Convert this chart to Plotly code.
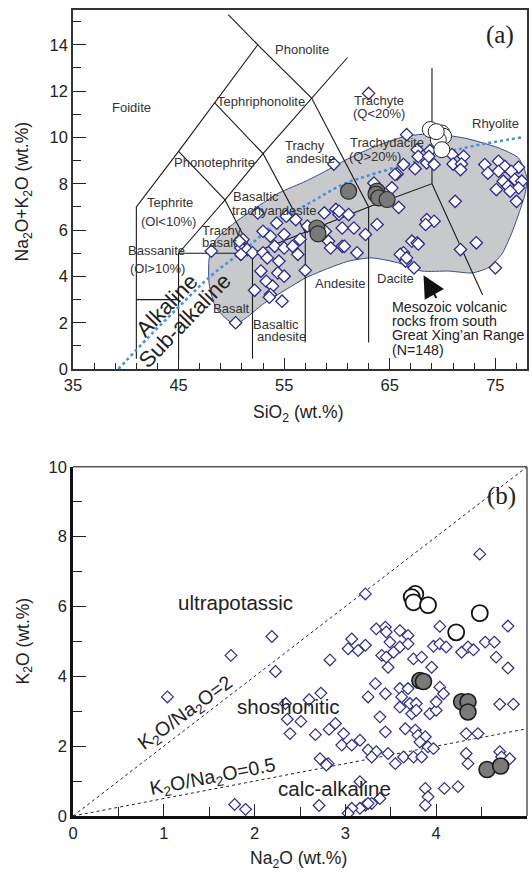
import plotly.graph_objects as go

# ---------------- (a) TAS data ----------------
tas_dia_sio2 = [59.7, 52.5, 55.2, 56.1, 58.8, 59.9, 60.2, 53.0, 53.7, 55.0, 57.2, 58.9, 60.5, 59.2, 59.4,
                60.5, 51.1, 50.9, 51.5, 48.1, 52.0, 50.9, 53.0, 53.4, 54.1, 55.0, 55.8, 56.3, 54.5, 52.8,
                54.4, 55.0, 57.0, 53.3, 53.9, 53.7, 53.6, 54.8, 50.4, 50.75, 61.1, 61.6, 62.7, 61.9, 60.7,
                63.8, 65.85, 65.2, 71.2, 68.5, 69.2, 68.4, 67.1, 67.6, 66.3, 66.5, 67.3, 71.7, 73.2, 75.0,
                77.0, 66.6, 67.6, 68.8, 66.3, 67.4, 68.5, 69.2, 67.7, 65.7, 63.5, 63.0, 65.5, 70.9, 72.0,
                71.0, 71.8, 71.7, 74.0, 74.3, 75.3, 75.9, 77.2, 75.3, 76.5, 75.75, 76.85, 77.5, 75.1, 76.2,
                77.2, 76.4, 66.0, 67.7, 60.2, 68.7, 66.6, 54.3, 56.5, 52.2]
tas_dia_alk = [8.85, 6.74, 6.6, 6.45, 6.74, 6.89, 6.67, 5.95, 5.73, 5.81, 6.17, 5.95, 6.09, 5.52, 5.23,
               5.3, 5.59, 5.23, 5.16, 5.09, 5.02, 4.95, 5.02, 4.8, 5.3, 5.23, 5.3, 4.95, 4.66, 4.23,
               4.15, 4.01, 4.26, 3.79, 3.58, 3.22, 3.1, 2.93, 2.0, 5.52, 6.67, 6.09, 5.81, 5.02, 5.3,
               6.24, 6.98, 7.82, 7.24, 6.45, 6.38, 6.24, 5.52, 5.45, 5.02, 4.66, 4.37, 5.16, 5.45, 4.37,
               7.24, 10.12, 9.47, 9.43, 8.83, 8.65, 8.9, 8.83, 9.18, 8.42, 8.03, 11.9, 8.4, 9.26, 9.18,
               8.85, 8.85, 8.61, 8.83, 8.46, 8.97, 8.75, 8.71, 8.54, 8.54, 8.11, 8.18, 8.11, 7.75, 7.89,
               7.82, 7.68, 4.95, 5.4, 6.81, 9.18, 4.8, 6.3, 5.6, 3.4]
tas_open_sio2 = [68.84, 69.93, 70.1, 69.6, 69.93, 69.4]
tas_open_alk = [10.34, 10.19, 10.05, 9.9, 9.47, 10.25]
tas_gray_sio2 = [61.1, 63.8, 63.7, 63.96, 64.75, 58.1, 58.2]
tas_gray_alk = [7.68, 7.68, 7.55, 7.39, 7.32, 6.09, 5.84]

# field of Mesozoic volcanic rocks (outline)
field_sio2 = [50.3, 48.55, 47.9, 47.9, 48.55, 50.1, 52.3, 54.5, 57.0, 58.9, 60.5, 63.3, 66.5, 69.0,
              72.1, 75.3, 77.2, 78.0, 77.8, 77.3, 76.5, 75.6, 74.3, 72.8, 70.6, 68.05, 65.85, 63.3,
              61.1, 58.9, 57.05, 55.2, 52.95, 51.4, 50.3]
field_alk = [1.93, 2.64, 3.65, 4.8, 5.59, 6.24, 6.96, 7.6, 8.1, 8.54, 8.95, 9.55, 10.05, 10.15,
             9.97, 9.55, 9.11, 8.25, 7.53, 6.81, 5.81, 4.95, 4.37, 4.15, 4.23, 4.23, 4.58, 4.8,
             4.66, 4.3, 3.94, 3.44, 2.79, 2.21, 1.93]

# Irvine & Baragar alkaline / sub-alkaline divide
ib_sio2 = [39.3, 42.2, 45.1, 48.2, 51.4, 54.5, 57.7, 60.6, 63.3, 66.5, 69.6, 72.8, 77.5]
ib_alk = [0.0, 1.4, 2.72, 4.08, 5.2, 6.4, 7.24, 7.98, 8.4, 8.83, 9.26, 9.62, 10.0]

# TAS classification boundaries (Le Bas et al., 1986)
tas_lines = [
    [(41, 0.45), (41, 7), (45, 9.4), (48.4, 11.5), (52.5, 14), (57.6, 11.7), (63, 7), (63, 1.15)],
    [(41, 3), (45, 3)],
    [(45, 0.45), (45, 5), (52, 5), (52, 0.45)],
    [(52, 5), (57, 5.9), (63, 7), (69, 8), (69, 13)],
    [(57, 1.15), (57, 5.9), (53, 9.3), (57.6, 11.7), (61, 13.45)],
    [(45, 5), (49.4, 7.3), (52, 5)],
    [(45, 9.4), (49.4, 7.3), (53, 9.3), (48.4, 11.5)],
    [(52.5, 14), (49.7, 15.3)],
    [(69, 8), (73.8, 3.2)],
]

# ---------------- (b) K2O vs Na2O data ----------------
kn_dia_na2o = [4.48, 3.22, 2.19, 4.04, 4.79, 3.34, 3.44, 3.45, 3.6, 3.69, 3.07, 3.03, 3.14, 3.22, 3.49,
               3.6, 3.69, 3.4, 3.45, 3.53, 3.47, 3.75, 3.84, 3.95, 3.97, 4.04, 4.11, 4.28, 4.35, 4.41,
               4.54, 4.64, 4.66, 4.79, 2.83, 3.33, 3.25, 3.44, 3.6, 3.69, 3.62, 3.71, 3.78, 3.6, 3.73,
               3.78, 3.93, 4.0, 4.04, 4.08, 4.0, 4.7, 4.85, 3.38, 3.44, 3.66, 3.77, 3.8, 3.88, 3.82,
               3.91, 3.97, 4.33, 4.46, 2.89, 2.98, 2.96, 3.07, 3.16, 3.25, 3.34, 3.29, 3.47, 3.55, 3.64,
               3.75, 3.84, 4.33, 4.35, 4.7, 4.72, 4.81, 2.81, 3.16, 3.88, 3.91, 3.88, 4.09, 4.24, 3.38,
               3.29, 3.22, 3.16, 3.07, 3.03, 1.74, 2.23, 1.04, 2.73, 2.6, 2.34, 2.36, 2.51, 2.39, 2.67,
               2.82, 2.72, 2.79, 1.78, 1.9, 2.71, 3.25]
kn_dia_k2o = [7.5, 6.36, 5.14, 5.43, 5.44, 5.36, 5.41, 5.27, 5.31, 5.17, 5.07, 4.79, 4.74, 4.89, 4.98,
              4.84, 4.93, 4.6, 4.55, 4.69, 4.26, 4.5, 4.55, 4.26, 4.86, 4.93, 4.84, 4.69, 4.84, 4.76,
              4.98, 4.98, 4.55, 4.24, 4.47, 3.79, 3.41, 3.5, 3.65, 3.65, 3.41, 3.22, 3.22, 3.12, 2.93,
              3.03, 2.93, 3.03, 3.69, 3.5, 3.27, 3.2, 3.2, 2.84, 2.41, 2.5, 2.46, 2.31, 2.27, 2.12,
              1.98, 1.93, 2.36, 2.36, 2.65, 2.36, 2.03, 2.03, 2.17, 1.89, 1.84, 1.69, 1.79, 1.5, 1.69,
              1.69, 1.69, 1.79, 1.5, 1.84, 1.69, 1.64, 1.5, 0.98, 0.79, 0.55, 0.31, 0.79, 0.84, 0.5,
              0.36, 0.31, 0.22, 0.22, 0.08, 4.6, 4.14, 3.41, 3.52, 3.33, 3.22, 2.77, 2.71, 2.36, 2.33,
              2.48, 1.64, 1.46, 0.33, 0.19, 0.3, 0.36]
kn_open_na2o = [3.77, 3.73, 3.75, 3.91, 4.48, 4.22]
kn_open_k2o = [6.36, 6.27, 6.12, 6.04, 5.81, 5.26]
kn_gray_na2o = [3.82, 3.86, 4.28, 4.35, 4.35, 4.56, 4.71]
kn_gray_k2o = [3.88, 3.85, 3.27, 3.27, 2.98, 1.33, 1.43]

ratio_na2o = [0, 5]
ratio_values = [2, 0.5]

FONT = "Liberation Sans, Arial, sans-serif"
SERIF = "Liberation Serif, Times New Roman, serif"
NAVY = "#2b2a8e"

fig = go.Figure()

# ---- panel (a) ----
fig.add_trace(go.Scatter(x=field_sio2, y=field_alk, mode="lines", fill="toself",
                         fillcolor="#c8c9cb", line=dict(color="#3b4a8c", width=1, shape="spline", smoothing=0.6),
                         xaxis="x", yaxis="y", hoverinfo="skip"))
lx, ly = [], []
for seg in tas_lines:
    for p in seg:
        lx.append(p[0]); ly.append(p[1])
    lx.append(None); ly.append(None)
fig.add_trace(go.Scatter(x=lx, y=ly, mode="lines", line=dict(color="#1a1a1a", width=1.1),
                         xaxis="x", yaxis="y", hoverinfo="skip"))
fig.add_trace(go.Scatter(x=ib_sio2, y=ib_alk, mode="lines",
                         line=dict(color="#4a8fe0", width=2.6, dash="dot", shape="spline"),
                         xaxis="x", yaxis="y"))
fig.add_trace(go.Scatter(x=tas_dia_sio2, y=tas_dia_alk, mode="markers",
                         marker=dict(symbol="diamond", size=9.5, color="white", line=dict(color=NAVY, width=1.3)),
                         xaxis="x", yaxis="y"))
fig.add_trace(go.Scatter(x=tas_open_sio2, y=tas_open_alk, mode="markers",
                         marker=dict(symbol="circle", size=16, color="white", line=dict(color="#222", width=1)),
                         xaxis="x", yaxis="y"))
fig.add_trace(go.Scatter(x=tas_gray_sio2, y=tas_gray_alk, mode="markers",
                         marker=dict(symbol="circle", size=16, color="#797979", line=dict(color="#2a2a2a", width=1.2)),
                         xaxis="x", yaxis="y"))

# ---- panel (b) ----
for r in ratio_values:
    fig.add_trace(go.Scatter(x=ratio_na2o, y=[v * r for v in ratio_na2o], mode="lines",
                             line=dict(color="#222", width=1, dash="dot"), xaxis="x2", yaxis="y2"))
fig.add_trace(go.Scatter(x=kn_dia_na2o, y=kn_dia_k2o, mode="markers",
                         marker=dict(symbol="diamond", size=9, color="white", line=dict(color=NAVY, width=1.2)),
                         xaxis="x2", yaxis="y2"))
fig.add_trace(go.Scatter(x=kn_open_na2o, y=kn_open_k2o, mode="markers",
                         marker=dict(symbol="circle", size=16, color="white", line=dict(color="#111", width=1.8)),
                         xaxis="x2", yaxis="y2"))
fig.add_trace(go.Scatter(x=kn_gray_na2o, y=kn_gray_k2o, mode="markers",
                         marker=dict(symbol="circle", size=16, color="#7a7a7a", line=dict(color="#1a1a1a", width=1.6)),
                         xaxis="x2", yaxis="y2"))

tickfont = dict(family=FONT, size=16.5, color="#222")

ann = []
def lab(x, y, t, size=13, xref="x", yref="y", angle=0, color="#333", xanchor="center", family=FONT):
    ann.append(dict(x=x, y=y, text=t, xref=xref, yref=yref, showarrow=False, textangle=angle,
                    xanchor=xanchor, yanchor="middle", font=dict(family=family, size=size, color=color)))

# field names
lab(40.5, 11.27, "Foidite")
lab(56.7, 13.8, "Phonolite")
lab(52.8, 11.56, "Tephriphonolite")
lab(48.4, 8.93, "Phonotephrite")
lab(64.0, 11.6, "Trachyte")
lab(64.0, 11.05, "(Q<20%)")
lab(57.0, 9.66, "Trachy")
lab(57.5, 9.11, "andesite")
lab(64.75, 9.76, "Trachydacite")
lab(63.6, 9.18, "(Q>20%)")
lab(75.0, 10.62, "Rhyolite")
lab(44.15, 7.17, "Tephrite")
lab(44.0, 6.38, "(Ol<10%)")
lab(42.9, 5.12, "Bassanite")
lab(43.05, 4.34, "(Ol>10%)")
lab(52.3, 7.46, "Basaltic")
lab(54.05, 6.84, "trachyandesite")
lab(49.1, 5.98, "Trachy")
lab(48.9, 5.45, "basalt")
lab(50.0, 2.62, "Basalt")
lab(54.2, 1.93, "Basaltic")
lab(54.7, 1.39, "andesite")
lab(60.35, 3.69, "Andesite")
lab(65.5, 3.9, "Dacite")
for i, t in enumerate(["Mesozoic volcanic", "rocks from south", "Great Xing\u2019an Range", "(N=148)"]):
    lab(65.07, 2.7 - i * 0.625, t, size=14.2, xanchor="left", color="#222")
lab(43.84, 2.76, "Alkaline", size=22, angle=-46, color="#222")
lab(45.57, 2.11, "Sub-alkaline", size=22, angle=-46, color="#222")
lab(75.4, 14.4, "(a)", size=25, color="#222", family=SERIF)

# panel (b) labels
lab(1.79, 6.12, "ultrapotassic", size=20.5, xref="x2", yref="y2", color="#222")
lab(2.37, 3.14, "shoshonitic", size=20.5, xref="x2", yref="y2", color="#222")
lab(2.88, 0.79, "calc-alkaline", size=20.5, xref="x2", yref="y2", color="#222")
lab(1.24, 2.94, "K<sub>2</sub>O/Na<sub>2</sub>O=2", size=19.5, xref="x2", yref="y2", angle=-36, color="#222")
lab(1.54, 1.11, "K<sub>2</sub>O/Na<sub>2</sub>O=0.5", size=19.5, xref="x2", yref="y2", angle=-11, color="#222")
lab(4.72, 9.17, "(b)", size=25, xref="x2", yref="y2", color="#222", family=SERIF)

# axis titles
lab(0.4956, 0.4988, "SiO<sub>2</sub> (wt.%)", size=17.5, xref="paper", yref="paper", color="#222")
lab(-0.108, 0.7748, "Na<sub>2</sub>O+K<sub>2</sub>O (wt.%)", size=17.5, xref="paper", yref="paper", angle=-90, color="#222")
lab(-0.108, 0.2178, "K<sub>2</sub>O (wt.%)", size=17.5, xref="paper", yref="paper", angle=-90, color="#222")
lab(0.4956, -0.0545, "Na<sub>2</sub>O (wt.%)", size=17.5, xref="paper", yref="paper", color="#222")

# arrow
ann.append(dict(x=68.2, y=4.05, ax=69.5, ay=3.0, xref="x", yref="y", axref="x", ayref="y",
                showarrow=True, arrowhead=2, arrowsize=2.2, arrowwidth=2, arrowcolor="#111", text=""))

fig.update_layout(
    width=530, height=875, margin=dict(l=73, r=1, t=8, b=59),
    paper_bgcolor="white", plot_bgcolor="white", showlegend=False,
    annotations=ann,
    xaxis=dict(domain=[0, 1], range=[35, 78], anchor="y", tickvals=[35, 45, 55, 65, 75],
               ticks="inside", ticklen=11, tickwidth=1.2, tickcolor="#222",
               minor=dict(tickvals=list(range(37, 78, 2)), ticks="inside", ticklen=6, tickcolor="#222", tickwidth=1.2),
               showline=True, mirror=True, linecolor="#333", linewidth=1.5,
               showgrid=False, zeroline=False, tickfont=tickfont),
    yaxis=dict(domain=[0.5545, 1], range=[0, 15.5], anchor="x", tickvals=list(range(0, 15, 2)),
               ticks="inside", ticklen=13, tickwidth=1.2, tickcolor="#222",
               minor=dict(tickvals=list(range(1, 16, 2)), ticks="inside", ticklen=8, tickcolor="#222", tickwidth=1.2),
               showline=True, mirror=True, linecolor="#333", linewidth=1.5,
               showgrid=False, zeroline=False, tickfont=tickfont),
    xaxis2=dict(domain=[0, 1], range=[0, 5], anchor="y2", tickvals=[0, 1, 2, 3, 4, 5],
                ticks="inside", ticklen=12, tickwidth=1.2, tickcolor="#222",
                minor=dict(tickvals=[0.5, 1.5, 2.5, 3.5, 4.5], ticks="inside", ticklen=9, tickcolor="#222", tickwidth=1.2),
                showline=True, mirror=False, linecolor="#111", linewidth=2.5,
                showgrid=False, zeroline=False, tickfont=tickfont),
    yaxis2=dict(domain=[0, 0.4332], range=[0, 10], anchor="x2", tickvals=[0, 2, 4, 6, 8, 10],
                ticks="inside", ticklen=13, tickwidth=1.2, tickcolor="#222",
                minor=dict(tickvals=[1, 3, 5, 7, 9], ticks="inside", ticklen=9, tickcolor="#222", tickwidth=1.2),
                showline=True, mirror=False, linecolor="#111", linewidth=2.5,
                showgrid=False, zeroline=False, tickfont=tickfont),
    shapes=[
        dict(type="line", xref="x2 domain", yref="y2 domain", x0=0, x1=1, y0=1, y1=1,
             line=dict(color="#555", width=1.5)),
        dict(type="line", xref="x2 domain", yref="y2 domain", x0=1, x1=1, y0=0, y1=1,
             line=dict(color="#555", width=1.5)),
    ],
)

fig.write_html("out.html")
